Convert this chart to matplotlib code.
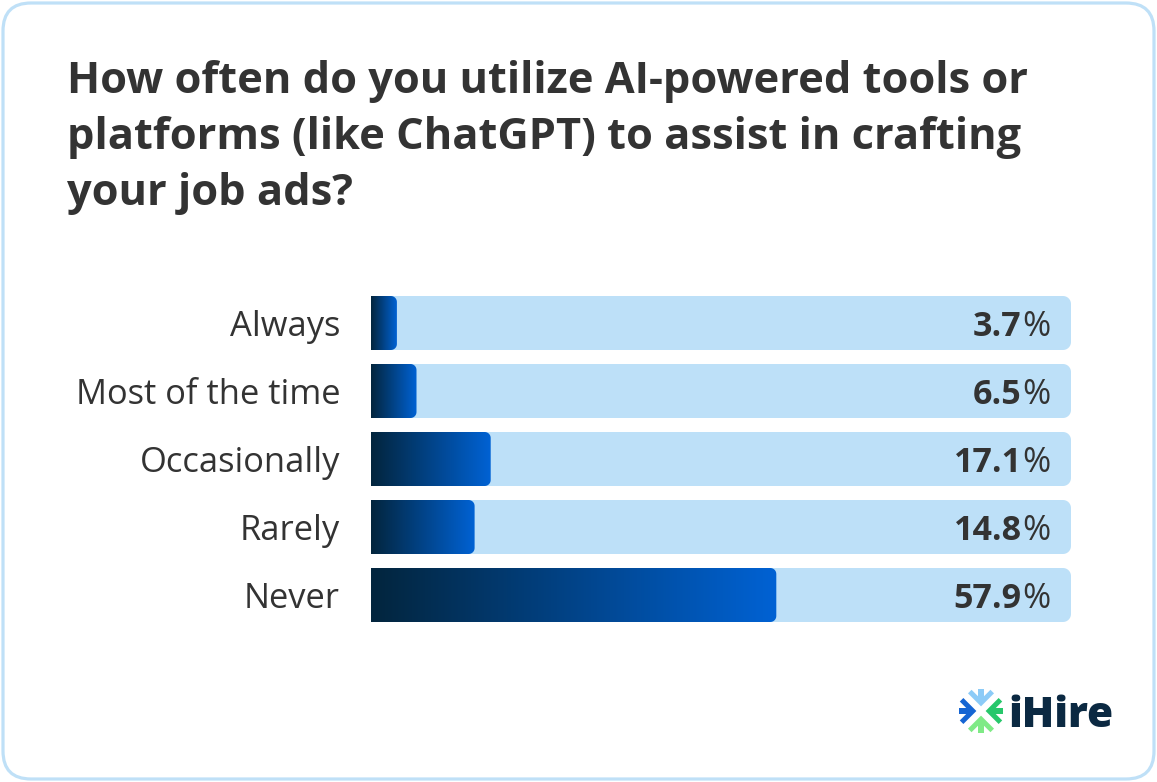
import numpy as np
import matplotlib
matplotlib.use('Agg')
import matplotlib.pyplot as plt
from matplotlib.path import Path
from matplotlib.patches import PathPatch, FancyBboxPatch, Polygon
from matplotlib.colors import LinearSegmentedColormap
from matplotlib.transforms import offset_copy

# data
categories = ['Always', 'Most of the time', 'Occasionally', 'Rarely', 'Never']
values = [3.7, 6.5, 17.1, 14.8, 57.9]
title = ('How often do you utilize AI-powered tools or\n'
         'platforms (like ChatGPT) to assist in crafting\n'
         'your job ads?')

plt.rcParams['font.family'] = ['Open Sans', 'DejaVu Sans']

W, H = 1157, 782
fig = plt.figure(figsize=(W / 100, H / 100), dpi=100)

# background / decoration axes in pixel units
bg = fig.add_axes([0, 0, 1, 1])
bg.set_xlim(0, W)
bg.set_ylim(H, 0)
bg.axis('off')
bg.add_patch(FancyBboxPatch((3, 3), W - 6, H - 6,
                            boxstyle='round,pad=0,rounding_size=28',
                            fc='white', ec='#bfe0f7', lw=2.3))

bg.text(67, 60, title, fontsize=31.2, fontweight='bold', color='#333333',
        ha='left', va='top', linespacing=1.40)

# logo
cx, cy, s = 981, 711, 21
arrow = [(0, 0.22), (0.62, 0.84), (0.45, 1.01), (0, 0.56), (-0.45, 1.01), (-0.62, 0.84)]
stem = [(-0.13, 0.4), (0.13, 0.4), (0.13, 1.05), (-0.13, 1.05)]
rots = {'#8ccbf7': lambda u, v: (u, v),
        '#1565d3': lambda u, v: (-v, u),
        '#27c76b': lambda u, v: (v, -u),
        '#7fea86': lambda u, v: (-u, -v)}
for col, rot in rots.items():
    for shape in (arrow, stem):
        pts = [rot(u, v) for u, v in shape]
        pts = [(cx + s * u, cy - s * v) for u, v in pts]
        bg.add_patch(Polygon(pts, closed=True, fc=col, ec='none'))
bg.text(1008, 727, 'iHire', fontsize=30.5, fontweight='heavy', color='#0b2942',
        ha='left', va='baseline')

# bar axes
x0, x1 = 371, 1071
top, bot = 289, 629
ax = fig.add_axes([x0 / W, (H - bot) / H, (x1 - x0) / W, (bot - top) / H])
ax.axis('off')

bar_h = 54 / 68
px_x = 100 / (x1 - x0)
px_y = 1 / 68


def right_round(xs, ys, w, h, rx, ry, n=10):
    rx = min(rx, w / 2)
    verts = [(xs, ys), (xs + w - rx, ys)]
    for t in np.linspace(-np.pi / 2, 0, n):
        verts.append((xs + w - rx + rx * np.cos(t), ys + ry + ry * np.sin(t)))
    for t in np.linspace(0, np.pi / 2, n):
        verts.append((xs + w - rx + rx * np.cos(t), ys + h - ry + ry * np.sin(t)))
    verts.append((xs, ys + h))
    verts.append((xs, ys))
    return Path(verts, closed=True)


cmap = LinearSegmentedColormap.from_list('g', ['#03253d', '#0062d4'])
grad = np.linspace(0, 1, 256).reshape(1, -1)
dy = 0.06  # text baseline nudge

for i, (cat, v) in enumerate(zip(categories, values)):
    y0 = i - bar_h / 2
    track = PathPatch(right_round(0, y0, 100, bar_h, 8 * px_x, 8 * px_y),
                      fc='#bde0f8', ec='none', zorder=1)
    ax.add_patch(track)
    fill = PathPatch(right_round(0, y0, v, bar_h, 6 * px_x, 6 * px_y),
                     fc='none', ec='none', zorder=1)
    ax.add_patch(fill)
    im = ax.imshow(grad, extent=[0, v, i + bar_h / 2, y0], aspect='auto',
                   cmap=cmap, interpolation='bilinear', zorder=2)
    im.set_clip_path(fill)

    ax.text(-31 / (x1 - x0), i + dy, cat, transform=ax.get_yaxis_transform(),
            ha='right', va='center', fontsize=24.8, color='#333333')

ax.set_xlim(0, 100)
ax.set_ylim(len(categories) - 0.5, -0.5)

# value labels: bold number + regular percent sign
fig.canvas.draw()
renderer = fig.canvas.get_renderer()
vx = (1050 - x0) / (x1 - x0)
for i, v in enumerate(values):
    pct = ax.text(vx, i + dy, '%', transform=ax.get_yaxis_transform(),
                  ha='right', va='center', fontsize=24.5, color='#333333', zorder=3)
    wpx = pct.get_window_extent(renderer).width
    tr = offset_copy(ax.get_yaxis_transform(), fig=fig, x=-wpx, units='dots')
    ax.text(vx, i + dy, f'{v:.1f}', transform=tr, ha='right', va='center',
            fontsize=24.5, fontweight='bold', color='#333333', zorder=3)

fig.savefig('out.png', dpi=100)
